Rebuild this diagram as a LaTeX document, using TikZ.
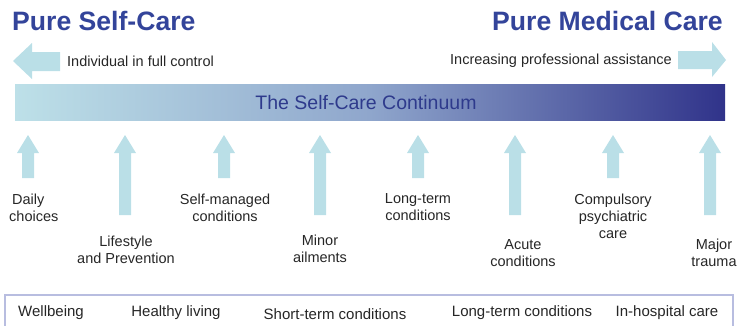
\documentclass[tikz,border=0pt]{standalone}
\usepackage{fontspec}
\setmainfont{Liberation Sans}
\definecolor{arrowblue}{HTML}{BADFE7}
\definecolor{titleblue}{HTML}{33449A}
\definecolor{barleft}{HTML}{BDE0E8}
\definecolor{barmid}{HTML}{8FA6CC}
\definecolor{barright}{HTML}{30338A}
\definecolor{bartext}{HTML}{2E3A8C}
\definecolor{boxline}{HTML}{B8BDE0}
\tikzset{
  title/.style={font=\fontsize{26.6}{28}\selectfont\bfseries, text=titleblue, inner sep=0pt},
  note/.style={font=\fontsize{14.5}{17}\selectfont, text=black!85, inner sep=0pt},
  lbl/.style={font=\fontsize{14.5}{17}\selectfont, text=black!85, inner sep=0pt, align=center},
  btm/.style={font=\fontsize{15}{17}\selectfont, text=black!85, inner sep=0pt},
  uparr/.pic={\fill[arrowblue] (0,0) -- (11,18) -- (6,18) -- (6,#1) -- (-6,#1) -- (-6,18) -- (-11,18) -- cycle;}
}
\begin{document}
\begin{tikzpicture}[x=1pt,y=-1pt]
\useasboundingbox (0,0) rectangle (738,325);
% titles
\node[title, anchor=base west] (t1) at (12,30) {Pure Self-Care};
\node[title, anchor=base east] (t2) at (723,30) {Pure Medical Care};
% side arrows
\fill[arrowblue] (13,61) -- (32,43) -- (32,52) -- (60,52) -- (60,71) -- (32,71) -- (32,79) -- cycle;
\fill[arrowblue] (726,60) -- (712,42) -- (712,51) -- (678,51) -- (678,69) -- (712,69) -- (712,77) -- cycle;
\node[note, anchor=west] (n1) at (67,61) {Individual in full control};
\node[note, anchor=east] (n2) at (672,61) {Increasing professional assistance};
% bar
\shade[left color=barleft, right color=barright, middle color=barmid] (15,84) rectangle (725,120);
\node[font=\fontsize{19.5}{22}\selectfont, text=bartext, inner sep=0pt] (bar) at (366,103) {The Self-Care Continuum};
% up arrows
\pic at (28,135) {uparr=43};
\pic at (125,135) {uparr=80};
\pic at (224,135) {uparr=43};
\pic at (320,135) {uparr=80};
\pic at (418,135) {uparr=43};
\pic at (515,135) {uparr=80};
\pic at (613,135) {uparr=43};
\pic at (710,135) {uparr=80};
% labels
\node[lbl, align=left, anchor=west] (l1) at (9,208) {\hspace*{3pt}Daily\\choices};
\node[lbl] (l2) at (126,250) {Lifestyle\\and Prevention};
\node[lbl] (l3) at (225,208) {Self-managed\\conditions};
\node[lbl] (l4) at (320,249) {Minor\\ailments};
\node[lbl] (l5) at (418,207) {Long-term\\conditions};
\node[lbl] (l6) at (523,253) {Acute\\conditions};
\node[lbl] (l7) at (613,216) {Compulsory\\psychiatric\\care};
\node[lbl] (l8) at (714,253) {Major\\trauma};
% bottom box
\draw[boxline, line width=1.2pt] (5,295) rectangle (733,330);
\node[btm] (b1) at (51,313) {Wellbeing};
\node[btm] (b2) at (176,313) {Healthy living};
\node[btm] (b3) at (335,314) {Short-term conditions};
\node[btm] (b4) at (522,313) {Long-term conditions};
\node[btm] (b5) at (667,313) {In-hospital care};
\end{tikzpicture}
\end{document}
